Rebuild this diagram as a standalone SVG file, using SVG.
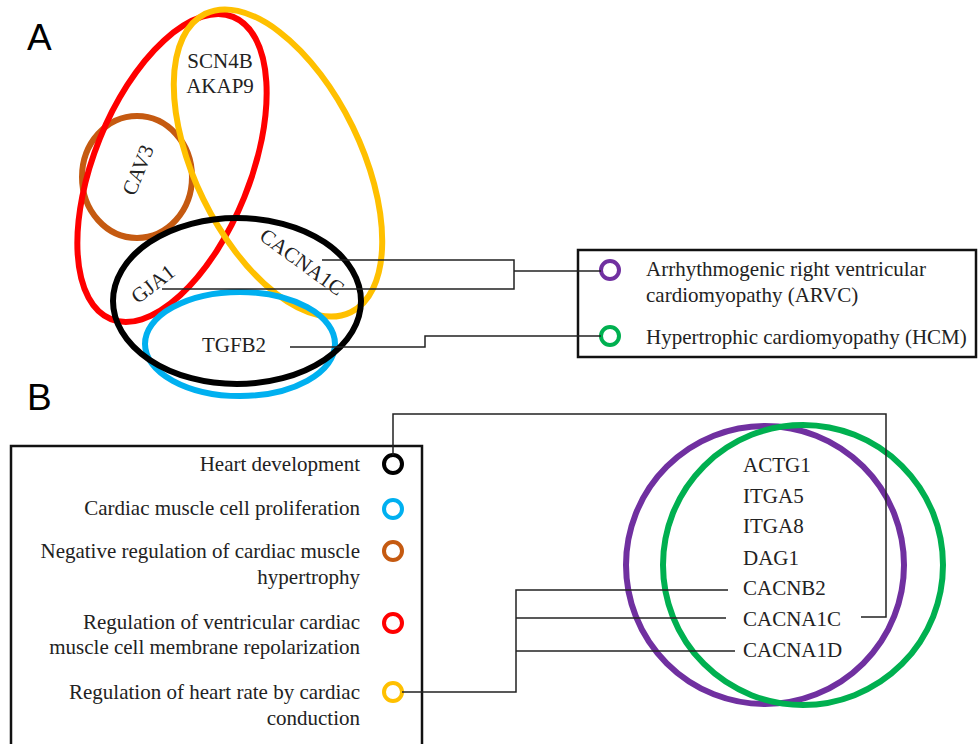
<svg xmlns="http://www.w3.org/2000/svg" width="979" height="744" viewBox="0 0 979 744">
<style>
.t{font-family:"Liberation Serif","Times New Roman",serif;font-size:21px;fill:#222}
.lab{font-family:"Liberation Sans",Arial,sans-serif;font-size:37px;fill:#000}
.set{fill:none;stroke-width:6}
.dot{fill:none;stroke-width:4}
.box{fill:none;stroke:#111;stroke-width:2.5}
.c{fill:none;stroke:#222;stroke-width:1.5}
</style>
<rect width="979" height="744" fill="#fff"/>
<text class="lab" x="27" y="50">A</text>
<text class="lab" x="27" y="410">B</text>
<g id="setA-brown"><ellipse class="set" stroke="#C55A11" cx="137" cy="177" rx="55" ry="61"/></g>
<g id="setA-red"><ellipse class="set" stroke="#FF0000" cx="172" cy="168" rx="78" ry="163" transform="rotate(22 172 168)"/></g>
<g id="setA-yellow"><ellipse class="set" stroke="#FFC000" cx="278" cy="163" rx="83" ry="166" transform="rotate(-26 278 163)"/></g>
<g id="setA-blue"><ellipse class="set" stroke="#00B0F0" cx="240" cy="344" rx="95" ry="52"/></g>
<g id="setA-black"><ellipse class="set" stroke="#000" cx="237" cy="301" rx="124" ry="83"/></g>
<g id="genesA">
<text class="t" x="220" y="68" text-anchor="middle">SCN4B</text>
<text class="t" x="220" y="93" text-anchor="middle">AKAP9</text>
<text class="t" text-anchor="middle" transform="translate(138,170) rotate(-68)" y="7">CAV3</text>
<text class="t" text-anchor="middle" transform="translate(153,284) rotate(-38)" y="7">GJA1</text>
<text class="t" text-anchor="middle" transform="translate(302,262) rotate(36)" y="7">CACNA1C</text>
<text class="t" x="234" y="352" text-anchor="middle">TGFB2</text>
</g>
<g id="legendA">
<rect class="box" x="578" y="250" width="398" height="107"/>
<circle class="dot" stroke="#7030A0" cx="610" cy="270" r="9"/>
<circle class="dot" stroke="#00B050" cx="610" cy="336" r="9"/>
<text class="t" x="646" y="276">Arrhythmogenic right ventricular</text>
<text class="t" x="646" y="302">cardiomyopathy (ARVC)</text>
<text class="t" x="646" y="344">Hypertrophic cardiomyopathy (HCM)</text>
</g>
<g id="legendB">
<rect class="box" x="11" y="446" width="411" height="310"/>
<circle class="dot" stroke="#000" cx="393" cy="464" r="9"/>
<circle class="dot" stroke="#00B0F0" cx="393" cy="509" r="9"/>
<circle class="dot" stroke="#C55A11" cx="393" cy="551" r="9"/>
<circle class="dot" stroke="#FF0000" cx="393" cy="623" r="9"/>
<circle class="dot" stroke="#FFC000" cx="393" cy="692" r="9"/>
<g text-anchor="end">
<text class="t" x="360" y="471">Heart development</text>
<text class="t" x="360" y="515">Cardiac muscle cell proliferation</text>
<text class="t" x="360" y="558">Negative regulation of cardiac muscle</text>
<text class="t" x="360" y="584">hypertrophy</text>
<text class="t" x="360" y="629">Regulation of ventricular cardiac</text>
<text class="t" x="360" y="654">muscle cell membrane repolarization</text>
<text class="t" x="360" y="699">Regulation of heart rate by cardiac</text>
<text class="t" x="360" y="725">conduction</text>
</g>
</g>
<g id="setB-purple"><circle class="set" stroke="#7030A0" cx="765" cy="565" r="139"/></g>
<g id="setB-green"><circle class="set" stroke="#00B050" cx="803" cy="565" r="140"/></g>
<g id="genesB">
<text class="t" x="743" y="472">ACTG1</text>
<text class="t" x="743" y="503">ITGA5</text>
<text class="t" x="743" y="533">ITGA8</text>
<text class="t" x="743" y="565">DAG1</text>
<text class="t" x="743" y="595">CACNB2</text>
<text class="t" x="743" y="626">CACNA1C</text>
<text class="t" x="743" y="657">CACNA1D</text>
</g>
<g id="connectors">
<polyline class="c" points="322,260 514,260 514,289 162,289"/>
<line class="c" x1="514" y1="271" x2="601" y2="271"/>
<polyline class="c" points="290,347 425,347 425,336 601,336"/>
<polyline class="c" points="861,617 886,617 886,414 393,414 393,455"/>
<polyline class="c" points="402,692 516,692 516,590 728,590"/>
<line class="c" x1="516" y1="618" x2="726" y2="618"/>
<line class="c" x1="516" y1="651" x2="735" y2="651"/>
</g>
</svg>
